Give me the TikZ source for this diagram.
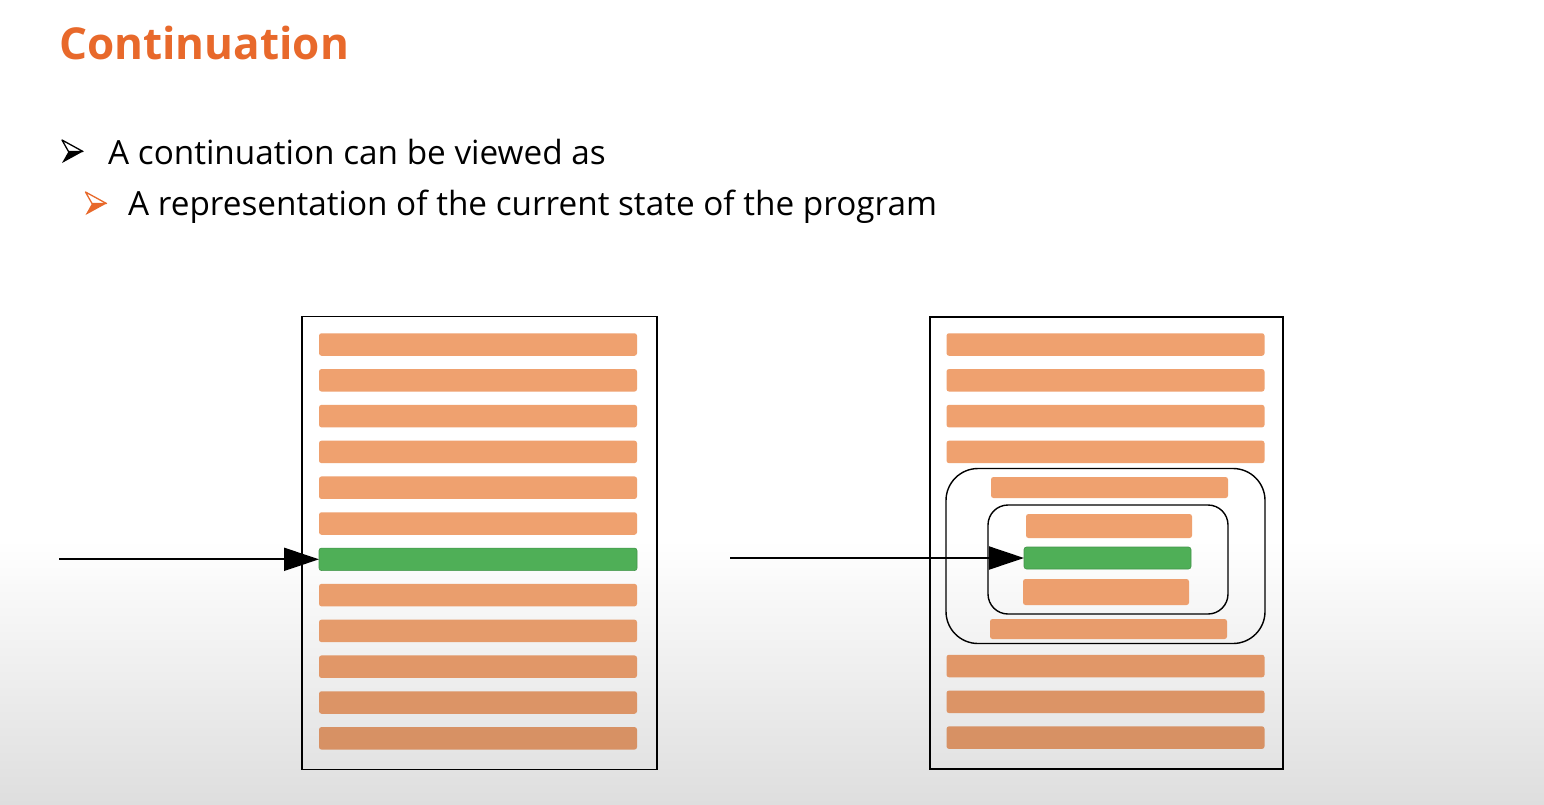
\documentclass[tikz,border=0pt]{standalone}
\usepackage{fontspec}
\setmainfont{Open Sans}
\usetikzlibrary{positioning,arrows.meta}
\definecolor{ingorange}{HTML}{E8692B}
\definecolor{barorange}{HTML}{EFA16F}
\definecolor{bargreen}{HTML}{4FAF57}
\definecolor{bgbottom}{HTML}{DEDEDE}
\tikzset{bar node/.style={rectangle,rounded corners=2.5pt,fill=barorange,
minimum height=22.5pt,inner sep=0pt,outer sep=0pt},
line node/.style={bar node,minimum width=318pt},
cur node/.style={bar node,fill=bargreen,draw=bargreen!85!black,line width=0.6pt},
frame node/.style={rectangle,draw,line width=1.4pt,inner sep=0pt},
flow/.style={line width=2pt,-{Triangle[length=35pt,width=23pt]}},
bullet mark/.pic={
    \draw[line width=1.3pt,line join=round] (10.5,0) -- (-10.5,-11.5) -- (-4,0) -- cycle;
    \fill[line join=round] (10.5,0) -- (-4,0) -- (-10.5,11.5) -- cycle;}}

\begin{document}
\begin{tikzpicture}[x=1pt,y=-1pt]
    \useasboundingbox (0,0) rectangle (1544,804);
    \fill[white] (0,0) rectangle (1544,804);
    \shade[top color=white,bottom color=bgbottom] (0,540) rectangle (1544,804);

    % title and bullets
    \node[anchor=west,inner sep=0pt,text=ingorange] (title) at (59,43)
        {\fontsize{44}{50}\selectfont\bfseries Continuation};
    \pic[black] at (72.5,151.5) {bullet mark};
    \node[anchor=base west,inner sep=0pt] (t1) at (108,164)
        {\fontsize{33.3}{40}\selectfont A continuation can be viewed as};
    \pic[ingorange] at (96,203.5) {bullet mark};
    \node[anchor=base west,inner sep=0pt] (t2) at (128,215)
        {\fontsize{33.3}{40}\selectfont A representation of the current state of the program};

    % left program
    \node[frame node,minimum width=355pt,minimum height=453pt] (lbox) at (479.5,543) {};
    \node[line node] (l1) at (478,344.5) {};
    \node[line node] (l2) [below=13.3pt of l1] {};
    \node[line node] (l3) [below=13.3pt of l2] {};
    \node[line node] (l4) [below=13.3pt of l3] {};
    \node[line node] (l5) [below=13.3pt of l4] {};
    \node[line node] (l6) [below=13.3pt of l5] {};
    \node[line node,cur node] (l7) [below=13.3pt of l6] {};
    \node[line node,fill=barorange!98!black] (l8) [below=13.3pt of l7] {};
    \node[line node,fill=barorange!96!black] (l9) [below=13.3pt of l8] {};
    \node[line node,fill=barorange!94!black] (l10) [below=13.3pt of l9] {};
    \node[line node,fill=barorange!92!black] (l11) [below=13.3pt of l10] {};
    \node[line node,fill=barorange!90!black] (l12) [below=13.3pt of l11] {};

    \coordinate[left=260pt of l7.west] (s1);
    \draw[flow] (s1) -- (l7.west);

    % right program
    \node[frame node,minimum width=353pt,minimum height=452pt] (rbox) at (1106.5,543) {};
    \node[line node] (r1) at (1105.5,344.5) {};
    \node[line node] (r2) [below=13.3pt of r1] {};
    \node[line node] (r3) [below=13.3pt of r2] {};
    \node[line node] (r4) [below=13.3pt of r3] {};
    \node[line node,fill=barorange!94!black] (r10) at (1105.5,666) {};
    \node[line node,fill=barorange!92!black] (r11) [below=13.3pt of r10] {};
    \node[line node,fill=barorange!90!black] (r12) [below=13.3pt of r11] {};

    \node[frame node,rounded corners=32pt,minimum width=319pt,minimum height=175pt] (outer) at (1105.5,556) {};
    \node[bar node,minimum width=237pt,minimum height=21pt] (o1) at (1109.5,487.5) {};
    \node[bar node,minimum width=237pt,minimum height=20pt,fill=barorange!97!black] (o2) at (1108.5,629) {};

    \node[frame node,rounded corners=20pt,minimum width=240pt,minimum height=109pt] (inner) at (1108,559.5) {};
    \node[bar node,minimum width=166pt,minimum height=24pt] (i1) at (1109,526) {};
    \node[bar node,cur node,minimum width=167pt,minimum height=22pt] (i2) at (1107.5,558) {};
    \node[bar node,minimum width=166pt,minimum height=26pt,fill=barorange!99!black] (i3) at (1106,592) {};

    \coordinate[left=294pt of i2.west] (s2);
    \draw[flow] (s2) -- (i2.west);
\end{tikzpicture}
\end{document}
